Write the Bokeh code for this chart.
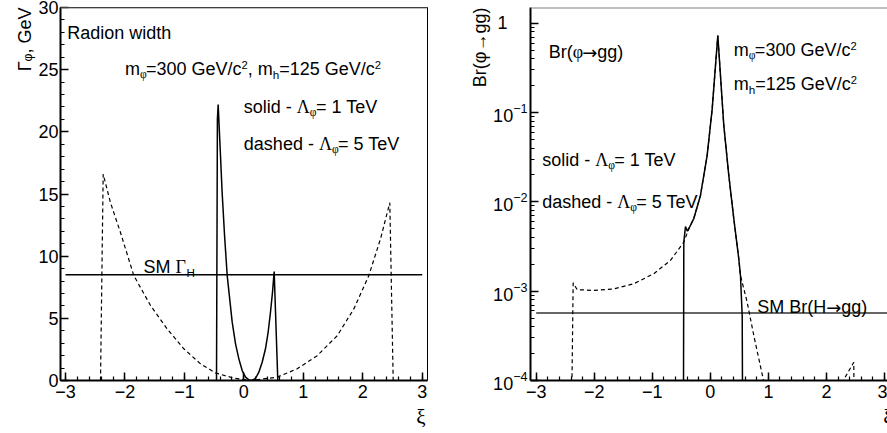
import numpy as np
from bokeh.plotting import figure
from bokeh.layouts import row
from bokeh.models import Range1d, SingleIntervalTicker, FixedTicker, Span, Label, Title
from bokeh.embed import file_html
from bokeh.resources import INLINE

# ---------------- data: left panel, radion width (GeV) ----------------
xi_width_1tev = [-0.460, -0.445, -0.432, -0.393, -0.365, -0.325, -0.280, -0.196, -0.140,
                 -0.084, -0.028, 0.028, 0.084, 0.140, 0.196, 0.252, 0.308, 0.364, 0.409,
                 0.448, 0.482, 0.510, 0.571]
width_1tev = [0.0, 21.0, 22.2, 18.1, 15.1, 11.7, 8.44, 4.69, 2.95,
              1.74, 0.80, 0.27, 0.05, 0.0, 0.16, 0.67, 1.47, 2.55, 3.9,
              5.49, 7.1, 8.76, 0.0]
xi_width_5tev = [-2.411, -2.366, -2.243, -2.075, -1.851, -1.570, -1.290, -1.010, -0.729,
                 -0.477, -0.169, 0.112, 0.561, 0.897, 1.234, 1.570, 1.850, 2.102, 2.299,
                 2.455, 2.512]
width_5tev = [0.0, 16.6, 14.3, 11.9, 8.44, 6.03, 4.15, 2.55, 1.34,
              0.61, 0.19, 0.0, 0.27, 0.94, 2.0, 3.6, 5.76, 8.44, 11.4,
              14.3, 0.0]
sm_width_xi = [-3.0, 3.0]
sm_width = [8.5, 8.5]

# ---------------- data: right panel, Br(phi -> gg) ----------------
xi_br_1tev = [-0.468, -0.457, -0.428, -0.395, -0.371, -0.285, -0.170, -0.055, 0.032, 0.089,
              0.129, 0.163, 0.232, 0.318, 0.404, 0.490, 0.519, 0.549, 0.566]
br_1tev = [1e-6, 3.54e-3, 5.3e-3, 4.7e-3, 5.0e-3, 6.5e-3, 1.18e-2, 3.3e-2, 0.110, 0.337,
           0.73, 0.337, 0.0718, 0.0198, 6.5e-3, 2.31e-3, 1.5e-3, 5.3e-4, 1e-6]
xi_br_5tev = [-2.421, -2.363, -2.294, -2.008, -1.663, -1.319, -0.974, -0.687, -0.457, -0.371,
              -0.285, -0.170, -0.055, 0.032, 0.089, 0.129, 0.163, 0.232, 0.318, 0.404,
              0.490, 0.519, 0.635, 0.749, 0.916, 0.95, 2.24, 2.271, 2.471, 2.500]
br_5tev = [1e-6, 1.24e-3, 1.04e-3, 1.02e-3, 1.06e-3, 1.21e-3, 1.57e-3, 2.21e-3, 3.54e-3, 5.0e-3,
           6.5e-3, 1.18e-2, 3.3e-2, 0.110, 0.337, 0.73, 0.337, 0.0718, 0.0198, 6.5e-3,
           2.31e-3, 1.5e-3, 7.5e-4, 3.19e-4, 1.0e-4, 8e-5, 8e-5, 9.5e-5, 1.6e-4, 1e-6]
sm_br_xi = [-3.0, 3.1]
sm_br = [5.7e-4, 5.7e-4]

# ---------------- ticks ----------------
xi_ticks = [-3, -2, -1, 0, 1, 2, 3]
width_ticks = [0, 5, 10, 15, 20, 25, 30]
br_ticks = [1e-4, 1e-3, 1e-2, 1e-1, 1.0]
br_minor = [k * 10.0 ** e for e in range(-4, 1) for k in range(2, 10)]

SANS = "Liberation Sans"
SERIF = "Liberation Serif"
ARROWF = "DejaVu Sans"
FS = 18

W_SANS = {' ': .278, '-': .333, '=': .584, ',': .278, '.': .278, '/': .278, '(': .333, ')': .333,
          'A': .667, 'B': .667, 'C': .722, 'D': .722, 'E': .667, 'G': .778, 'H': .722, 'M': .833,
          'R': .722, 'S': .667, 'T': .611, 'V': .667,
          'a': .556, 'b': .556, 'c': .5, 'd': .556, 'e': .556, 'g': .556, 'h': .556, 'i': .222,
          'l': .222, 'm': .833, 'n': .556, 'o': .556, 'r': .333, 's': .5, 't': .278, 'w': .722}
for d in "0123456789":
    W_SANS[d] = .556
W_SERIF = {'Γ': .611, 'Λ': .722, 'φ': .52, 'ξ': .44}
W_ARROW = {'→': .838}


def font_of(kind):
    if kind in ("g", "gsub"):
        return SERIF, W_SERIF
    if kind == "arrow":
        return ARROWF, W_ARROW
    return SANS, W_SANS


def rich(p, x, y, parts, size=FS):
    adv = 0.0
    for txt, kind in parts:
        font, tab = font_of(kind)
        if kind in ("sub", "gsub"):
            fs, shift = size * 0.65, -0.30 * size
        elif kind == "sup":
            fs, shift = size * 0.62, 0.22 * size
        else:
            fs, shift = size, 0.0
        w = sum(tab.get(c, .6) for c in txt) * fs
        p.add_layout(Label(x=x, y=y, x_units="data", y_units="data", text=txt,
                           x_offset=adv, y_offset=shift,
                           text_font=font, text_font_size=f"{fs:.1f}px", text_color="black",
                           text_align="left", text_baseline="alphabetic"))
        adv += w


def style(p):
    p.xgrid.visible = False
    p.ygrid.visible = False
    p.background_fill_color = "white"
    p.border_fill_color = "white"
    for ax in (p.xaxis[0], p.yaxis[0]):
        ax.axis_line_width = 2
        ax.axis_line_color = "black"
        ax.major_tick_in = 8
        ax.major_tick_out = 0
        ax.minor_tick_in = 4
        ax.minor_tick_out = 0
        ax.major_tick_line_width = 1.5
        ax.minor_tick_line_width = 1.2
        ax.major_tick_line_color = "black"
        ax.minor_tick_line_color = "black"
        ax.major_label_text_font = SANS
        ax.major_label_text_font_size = "18px"
        ax.major_label_text_color = "black"
    p.xaxis[0].major_label_standoff = 4
    p.yaxis[0].major_label_standoff = 2


def side_title(p, text, place, font, size, offset=0, standoff=0):
    p.add_layout(Title(text=text, align="right", offset=offset, standoff=standoff,
                       text_font=font, text_font_size=size, text_font_style="normal",
                       text_color="black"), place)


# ---------------- left panel ----------------
p1 = figure(width=443, height=433, output_backend="svg", toolbar_location=None,
            x_range=Range1d(-3.084, 3.089), y_range=Range1d(0, 30),
            min_border_left=60, min_border_right=16, min_border_top=7, min_border_bottom=53)
style(p1)
p1.outline_line_color = "black"
p1.outline_line_width = 1
p1.xaxis[0].ticker = SingleIntervalTicker(interval=1, num_minor_ticks=5)
p1.yaxis[0].ticker = SingleIntervalTicker(interval=5, num_minor_ticks=5)
p1.add_layout(Span(location=30, dimension="width", line_color="#808080", line_width=2))

p1.line(sm_width_xi, sm_width, line_color="black", line_width=1.5)
p1.line(xi_width_5tev, width_5tev, line_color="black", line_width=1.2, line_dash="4 3")
p1.line(xi_width_1tev, width_1tev, line_color="black", line_width=1.5)

rich(p1, -2.97, 27.95, [("Radion width", "n")])
rich(p1, -2.0, 25.05, [("m", "n"), ("φ", "gsub"), ("=300 GeV/c", "n"), ("2", "sup"),
                       (", m", "n"), ("h", "sub"), ("=125 GeV/c", "n"), ("2", "sup")])
rich(p1, 0.0, 22.0, [("solid - ", "n"), ("Λ", "g"), ("φ", "gsub"), ("= 1 TeV", "n")])
rich(p1, 0.0, 19.0, [("dashed - ", "n"), ("Λ", "g"), ("φ", "gsub"), ("= 5 TeV", "n")])
rich(p1, -1.69, 9.1, [("SM ", "n"), ("Γ", "g"), ("H", "sub")])
side_title(p1, "Γᵩ, GeV", "left", SANS, "18px", offset=0, standoff=2)
side_title(p1, "ξ", "below", SERIF, "21px", offset=2, standoff=5)

# ---------------- right panel ----------------
p2 = figure(width=444, height=433, output_backend="svg", toolbar_location=None,
            y_axis_type="log",
            x_range=Range1d(-3.098, 3.052), y_range=Range1d(1e-4, 1.5),
            min_border_left=87, min_border_right=0, min_border_top=7, min_border_bottom=53)
style(p2)
p2.outline_line_color = None
p2.xaxis[0].ticker = SingleIntervalTicker(interval=1, num_minor_ticks=5)
p2.yaxis[0].ticker = FixedTicker(ticks=br_ticks, minor_ticks=br_minor)
p2.yaxis[0].major_label_overrides = {1.0: "1\u2007\u2007"}
p2.yaxis[0].major_label_standoff = 3
p2.add_layout(Span(location=1.5, dimension="width", line_color="#808080", line_width=2))

p2.line(sm_br_xi, sm_br, line_color="#333333", line_width=1.5)
p2.line(xi_br_5tev, br_5tev, line_color="black", line_width=1.2, line_dash="4 3")
p2.line(xi_br_1tev, br_1tev, line_color="black", line_width=1.5)

rich(p2, -2.783, 0.474, [("Br(", "n"), ("φ", "g"), ("→", "arrow"), ("gg)", "n")])
rich(p2, 0.404, 0.496, [("m", "n"), ("φ", "gsub"), ("=300 GeV/c", "n"), ("2", "sup")])
rich(p2, 0.404, 0.21, [("m", "n"), ("h", "sub"), ("=125 GeV/c", "n"), ("2", "sup")])
rich(p2, -2.897, 0.0296, [("solid - ", "n"), ("Λ", "g"), ("φ", "gsub"), ("= 1 TeV", "n")])
rich(p2, -2.897, 0.00993, [("dashed - ", "n"), ("Λ", "g"), ("φ", "gsub"), ("= 5 TeV", "n")])
rich(p2, 0.807, 6.6e-4, [("SM Br(H", "n"), ("→", "arrow"), ("gg)", "n")])
side_title(p2, "Br(φ→gg)", "left", SANS, "18px", offset=0, standoff=2)
side_title(p2, "ξ", "below", SERIF, "21px", offset=-5, standoff=5)

layout = row(p1, p2)
open("out.html", "w").write(file_html(layout, INLINE))
